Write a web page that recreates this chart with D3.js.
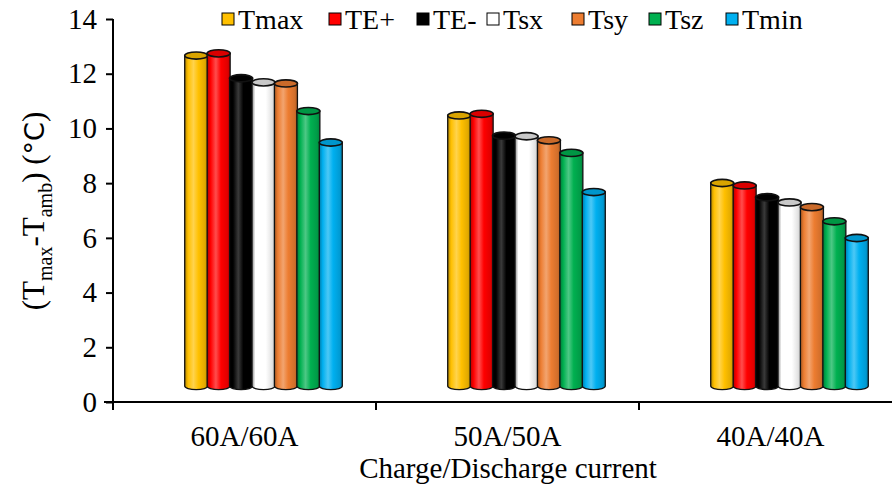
<!DOCTYPE html>
<html><head><meta charset="utf-8">
<script src="https://cdn.jsdelivr.net/npm/d3@7/dist/d3.min.js"></script>
<style>body{margin:0;background:#fff}svg{display:block}text{font-family:"Liberation Serif","Times New Roman",serif;fill:#000}</style>
</head><body><svg id="c" width="892" height="486"></svg>
<script>
const categories = ["60A/60A", "50A/50A", "40A/40A"];
const seriesNames = ["Tmax", "TE+", "TE-", "Tsx", "Tsy", "Tsz", "Tmin"];
const seriesColors = ["#FFC000", "#FF0000", "#000000", "#FFFFFF", "#ED7D31", "#00B050", "#00B0F0"];
const Tmax = [12.08, 9.89, 7.42];
const TEplus = [12.16, 9.95, 7.33];
const TEminus = [11.25, 9.15, 6.90];
const Tsx = [11.10, 9.13, 6.71];
const Tsy = [11.06, 8.98, 6.54];
const Tsz = [10.05, 8.52, 6.02];
const Tmin = [8.90, 7.09, 5.41];
const yTicks = [0, 2, 4, 6, 8, 10, 12, 14];
const seriesValues = [Tmax, TEplus, TEminus, Tsx, Tsy, Tsz, Tmin];

const svg = d3.select("#c");
const defs = svg.append("defs");
const y = d3.scaleLinear().domain([0, 14]).range([402, 19]);
const x = d3.scaleBand().domain(categories).range([113, 902]).padding(0);
const depthX = 19, depthY = 16;
const groupW = 157;
const xs = d3.scaleBand().domain(seriesNames).range([-groupW/2, groupW/2]).padding(0);

// gradients
seriesColors.forEach((c, i) => {
  const col = d3.rgb(c);
  const isBlack = c === "#000000";
  const hl = isBlack ? d3.rgb("#3a3a3a") : d3.interpolateRgb(c, "#fff")(0.3);
  const g = defs.append("linearGradient").attr("id", "g" + i).attr("x1", "0").attr("x2", "1").attr("y1", "0").attr("y2", "0");
  const dk = c === "#FFFFFF" ? d3.rgb("#8a8a8a") : col.darker(1.0);
  [[0, dk], [0.15, col], [0.38, hl], [0.6, col], [0.88, col.darker(0.35)], [1, col.darker(0.9)]]
    .forEach(([o, cc]) => g.append("stop").attr("offset", o).attr("stop-color", cc));
});

// bars
const w = 23, ry = 3.6;
categories.forEach((cat, ci) => {
  seriesNames.forEach((s, si) => {
    const v = seriesValues[si][ci];
    const cx = x(cat) + x.bandwidth()/2 + depthX + xs(s) + xs.bandwidth()/2;
    const yt = y(v) - depthY, yb = y(0) - depthY;
    const l = cx - w/2, r = cx + w/2;
    svg.append("path")
      .attr("d", `M${l},${yt} L${l},${yb} A${w/2},${ry} 0 0 0 ${r},${yb} L${r},${yt} Z`)
      .attr("fill", `url(#g${si})`).attr("stroke", "#111").attr("stroke-width", 1.3);
    const top = seriesColors[si] === "#FFFFFF" ? "#c8c8c8" : d3.rgb(seriesColors[si]).darker(0.45);
    svg.append("ellipse").attr("cx", cx).attr("cy", yt).attr("rx", w/2).attr("ry", ry)
      .attr("fill", top).attr("stroke", "#111").attr("stroke-width", 1.6);
  });
});

// y axis
const ya = svg.append("g").attr("transform", "translate(113,0)")
  .call(d3.axisLeft(y).tickValues(yTicks).tickSize(7).tickPadding(9).tickFormat(d3.format("d")));
ya.select(".domain").attr("stroke", "#000").attr("stroke-width", 2).attr("d", "M0,19V402");
ya.selectAll(".tick line").attr("stroke", "#000").attr("stroke-width", 2);
ya.selectAll(".tick text").style("font-family", "Liberation Serif").style("font-size", "29px").attr("fill", "#000");

// x axis
const xa = svg.append("g").attr("transform", "translate(0,402)");
xa.append("line").attr("x1", 104).attr("x2", 892).attr("stroke", "#000").attr("stroke-width", 2);
const bounds = categories.map(c => x(c)).concat([x.range()[1]]);
xa.selectAll(".xt").data(bounds).join("line").attr("x1", d => d).attr("x2", d => d)
  .attr("y1", 0).attr("y2", 8).attr("stroke", "#000").attr("stroke-width", 2);
xa.selectAll(".xl").data(categories).join("text")
  .attr("x", d => x(d) + x.bandwidth()/2).attr("y", 44).attr("text-anchor", "middle")
  .style("font-size", "29px").text(d => d);
svg.append("text").attr("x", 508).attr("y", 478).attr("text-anchor", "middle")
  .style("font-size", "29px").text("Charge/Discharge current");

// y label
const yl = svg.append("text").attr("transform", "translate(44,211) rotate(-90)")
  .attr("text-anchor", "middle").style("font-size", "31px");
yl.append("tspan").text("(T");
yl.append("tspan").attr("dy", 8).style("font-size", "20px").text("max");
yl.append("tspan").attr("dy", -8).text("-T");
yl.append("tspan").attr("dy", 8).style("font-size", "20px").text("amb");
yl.append("tspan").attr("dy", -8).text(") (");
yl.append("tspan").style("font-family", "DejaVu Sans").style("font-size", "27px").text("°C");
yl.append("tspan").text(")");

// legend
const legX = [222, 329, 417, 487, 572, 649, 726];
const leg = svg.append("g");
seriesNames.forEach((s, i) => {
  leg.append("rect").attr("x", legX[i]).attr("y", 13).attr("width", 12).attr("height", 12)
    .attr("fill", seriesColors[i]).attr("stroke", "#000").attr("stroke-width", 1);
  leg.append("text").attr("x", legX[i] + 16).attr("y", 29).style("font-size", "28px").text(s);
});
</script></body></html>
